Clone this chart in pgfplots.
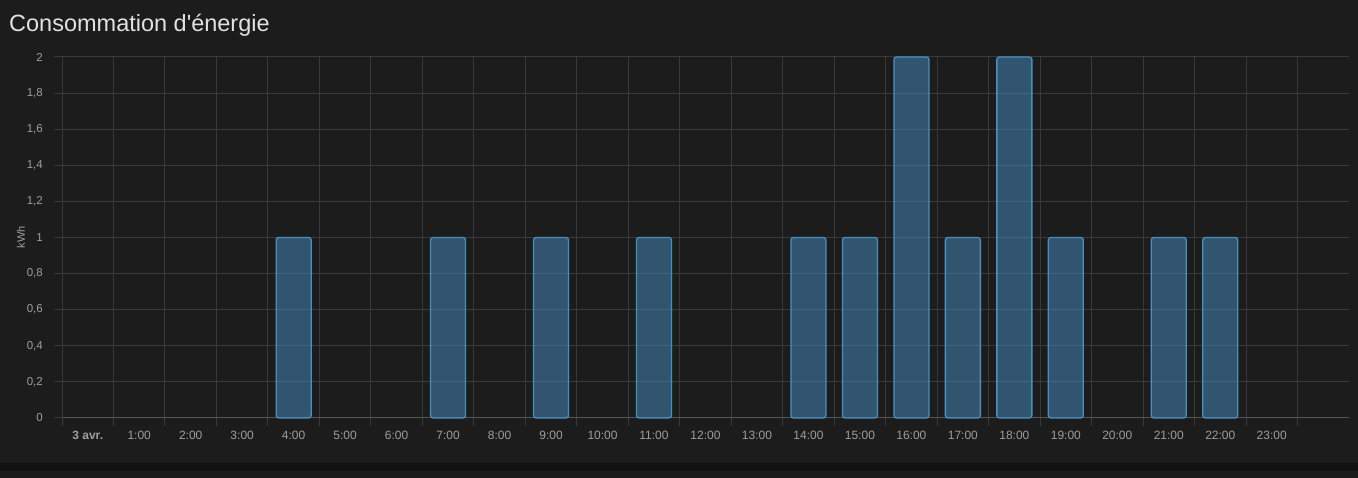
\documentclass[border=0pt]{standalone}
\usepackage{fontspec}
\setmainfont{Liberation Sans}[Ligatures=TeXOff]
\usepackage{pgfplots}
\pgfplotsset{compat=1.18}
\definecolor{bg}{HTML}{1C1C1C}
\definecolor{strip}{HTML}{111111}
\definecolor{titlec}{HTML}{E1E1E1}
\definecolor{tickc}{HTML}{9E9E9E}
\definecolor{gridc}{HTML}{3A3A3A}
\definecolor{axisc}{HTML}{555555}
\definecolor{barc}{HTML}{488FC2}
\begin{document}
\begin{tikzpicture}[x=1pt,y=1pt]
\fill[bg] (0,0) rectangle (1358,478);
\fill[strip] (0,7) rectangle (1358,15);
\node[anchor=base west, text=titlec, font=\fontsize{23.5}{28}\selectfont, inner sep=0] at (9,446) {Consommation d'énergie};
\begin{axis}[at={(62pt,60pt)}, anchor=south west, width=1287pt, height=361pt, scale only axis,
  xmin=0, xmax=25, ymin=0, ymax=2, clip=false,
  axis lines=left, axis line style={-},
  x axis line style={draw=axisc, line width=1pt},
  y axis line style={draw=gridc, line width=1pt},
  xtick={0,1,2,3,4,5,6,7,8,9,10,11,12,13,14,15,16,17,18,19,20,21,22,23,24},
  xticklabels={},
  ytick={0,0.2,0.4,0.6,0.8,1,1.2,1.4,1.6,1.8,2},
  grid=major, major grid style={draw=gridc, line width=1pt},
  tick align=outside, major tick length=8pt,
  tick style={draw=gridc, line width=1pt},
  extra x ticks={0.5,1.5,2.5,3.5,4.5,5.5,6.5,7.5,8.5,9.5,10.5,11.5,12.5,13.5,14.5,15.5,16.5,17.5,18.5,19.5,20.5,21.5,22.5,23.5},
  extra x tick labels={\textbf{3 avr.},1:00,2:00,3:00,4:00,5:00,6:00,7:00,8:00,9:00,10:00,11:00,12:00,13:00,14:00,15:00,16:00,17:00,18:00,19:00,20:00,21:00,22:00,23:00},
  extra x tick style={grid=none, major tick length=0pt},
  xticklabel style={anchor=center, inner sep=0pt, yshift=-17.5pt, font=\fontsize{12}{14}\selectfont, text=tickc},
  yticklabel style={anchor=east, inner sep=0pt, xshift=-11pt, font=\fontsize{11.5}{14}\selectfont, text=tickc},
  xticklabel shift=0pt, yticklabel shift=0pt,
  /pgf/number format/.cd, fixed, precision=1, use comma, assume math mode=true,
  /pgfplots/.cd,
  every axis y label/.style={at={([xshift=-41pt]axis description cs:0,0.5)}, rotate=90, anchor=center, font=\fontsize{11}{13}\selectfont, text=tickc},
  ylabel={kWh},
]
\addplot[ybar, bar width=0.68, fill=barc, fill opacity=0.5, draw=barc, line width=1.3pt, rounded corners=2.5pt]
  coordinates {(4.5,1) (7.5,1) (9.5,1) (11.5,1) (14.5,1) (15.5,1) (16.5,2) (17.5,1) (18.5,2) (19.5,1) (21.5,1) (22.5,1)};
\end{axis}
\end{tikzpicture}
\end{document}
